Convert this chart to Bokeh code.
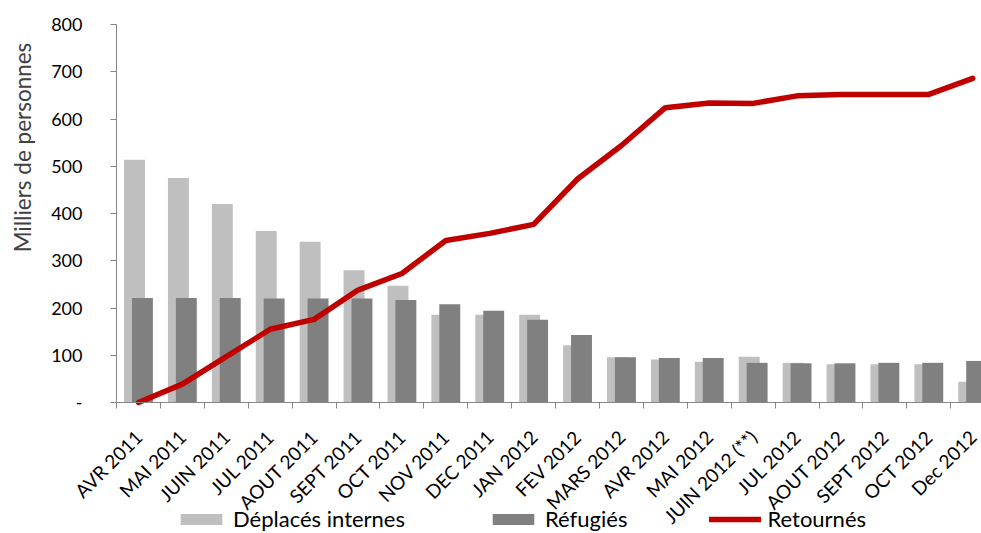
from math import pi
from bokeh.plotting import figure
from bokeh.models import (Range1d, FixedTicker, Legend, LegendItem, Label,
                          ColumnDataSource)
from bokeh.transform import dodge
from bokeh.embed import file_html
from bokeh.resources import INLINE

months = ["AVR 2011", "MAI 2011", "JUIN 2011", "JUL 2011", "AOUT 2011",
          "SEPT 2011", "OCT 2011", "NOV 2011", "DEC 2011", "JAN 2012",
          "FEV 2012", "MARS 2012", "AVR 2012", "MAI 2012", "JUIN 2012 (**)",
          "JUL 2012", "AOUT 2012", "SEPT 2012", "OCT 2012", "Dec 2012"]
deplaces = [514, 475, 420, 363, 340, 280, 247, 186, 186, 186,
            121, 96, 91, 86, 97, 84, 81, 81, 81, 44]
refugies = [221, 221, 221, 220, 220, 220, 217, 208, 194, 175,
            143, 96, 94, 94, 84, 83, 83, 84, 84, 88]
retournes = [0, 39, 97, 155, 176, 238, 273, 343, 358, 377,
             473, 544, 624, 634, 633, 649, 652, 652, 652, 686]
y_ticks = [0, 100, 200, 300, 400, 500, 600, 700, 800]

centers = [i + 0.5 for i in range(len(months))]
src = ColumnDataSource(dict(x=centers, dep=deplaces, ref=refugies, ret=retournes))

FONT = "Lato"
AXIS = "#868686"

# frame spans the whole canvas; axes are pinned at x=0 / y=0
p = figure(width=981, height=533,
           x_range=Range1d(-2.642, 19.70), y_range=Range1d(-277.2, 850.8),
           toolbar_location=None, output_backend="svg", min_border=0)
p.outline_line_color = None
p.xgrid.visible = False
p.ygrid.visible = False

r1 = p.vbar(x=dodge("x", -0.09), top="dep", width=0.477, source=src,
            fill_color="#BFBFBF", line_color=None)
r2 = p.vbar(x=dodge("x", 0.09), top="ref", width=0.477, source=src,
            fill_color="#808080", line_color=None)
r3 = p.line(x="x", y="ret", source=src, line_color="#C00000", line_width=5.5,
            line_cap="round", line_join="round")

xa = p.xaxis[0]
xa.fixed_location = 0
xa.bounds = (0, len(months))
xa.ticker = FixedTicker(ticks=centers, minor_ticks=list(range(len(months) + 1)))
xa.major_label_overrides = {c: m for c, m in zip(centers, months)}
xa.major_label_orientation = pi / 4
xa.major_tick_out = 0
xa.major_tick_in = 0
xa.minor_tick_out = 6
xa.minor_tick_in = 0
xa.minor_tick_line_color = AXIS
xa.axis_line_color = AXIS
xa.major_label_standoff = 25
xa.major_label_text_font = FONT
xa.major_label_text_font_size = "19px"
xa.major_label_text_color = "#000000"

ya = p.yaxis[0]
ya.fixed_location = 0
ya.bounds = (0, 800)
ya.ticker = FixedTicker(ticks=y_ticks, minor_ticks=[])
ya.major_label_overrides = {0: "-"}
ya.axis_line_color = AXIS
ya.major_tick_line_color = AXIS
ya.major_tick_out = 6
ya.major_tick_in = 0
ya.minor_tick_out = 0
ya.minor_tick_in = 0
ya.major_label_standoff = 28
ya.major_label_text_font = FONT
ya.major_label_text_font_size = "18px"
ya.major_label_text_color = "#000000"

ytitle = Label(x=22, y=386, x_units="screen", y_units="screen",
               text="Milliers de personnes", angle=pi / 2,
               text_align="center", text_baseline="middle",
               text_font=FONT, text_font_size="22.5px", text_color="#404040")
p.add_layout(ytitle)

legend = Legend(items=[LegendItem(label="Déplacés internes", renderers=[r1]),
                       LegendItem(label="Réfugiés", renderers=[r2]),
                       LegendItem(label="Retournés", renderers=[r3])],
                orientation="horizontal", location=(175, 1),
                glyph_width=52, glyph_height=14, label_standoff=6, spacing=82,
                padding=0, margin=0, border_line_color=None,
                background_fill_alpha=0, label_text_font=FONT,
                label_text_font_size="22px", label_text_color="#000000")
p.add_layout(legend, "center")

open("out.html", "w").write(file_html(p, INLINE))
